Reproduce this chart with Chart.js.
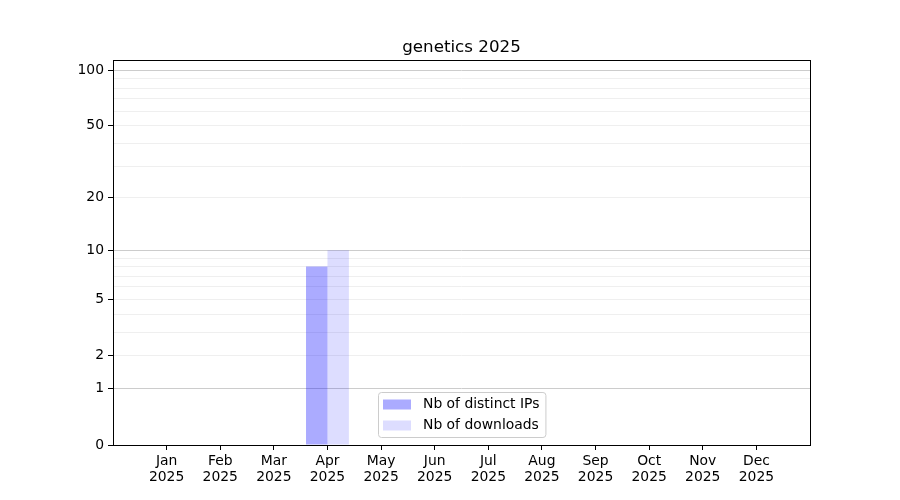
<!DOCTYPE html>
<html>
<head>
<meta charset="utf-8">
<script src="https://cdn.jsdelivr.net/npm/chart.js@4.4.1/dist/chart.umd.min.js"></script>
<style>
  body { margin: 0; background: #fff; }
  #wrap { width: 900px; height: 500px; }
</style>
</head>
<body>
<div id="wrap"><canvas id="chart" width="900" height="500"></canvas></div>
<script>
// --- data ---
const TITLE = 'genetics 2025';
const MONTHS = ['Jan', 'Feb', 'Mar', 'Apr', 'May', 'Jun', 'Jul', 'Aug', 'Sep', 'Oct', 'Nov', 'Dec'];
const YEAR = '2025';
const distinctIPs = [0, 0, 0, 8, 0, 0, 0, 0, 0, 0, 0, 0];
const downloads   = [0, 0, 0, 10, 0, 0, 0, 0, 0, 0, 0, 0];
const Y_TICKS   = [0, 1, 2, 3, 4, 5, 6, 7, 8, 9, 10, 20, 30, 40, 50, 60, 70, 80, 90, 100];
const Y_LABELED = [0, 1, 2, 5, 10, 20, 50, 100];
const Y_MAJOR   = [1, 10, 100];
const Y_MAX = 113.5;

const FONT = 'DejaVu Sans';

// --- log10(1+y) scale (matplotlib-like symlog look) ---
class Log1pScale extends Chart.LinearScale {
    buildTicks() {
        return Y_TICKS.map(v => ({ value: v }));
    }
    configure() {
        super.configure();
        this._lo = Math.log10(1 + this.min);
        this._hi = Math.log10(1 + this.max);
    }
    getPixelForValue(v) {
        return this.getPixelForDecimal((Math.log10(1 + v) - this._lo) / (this._hi - this._lo));
    }
    getValueForPixel(p) {
        const d = this.getDecimalForPixel(p);
        return Math.pow(10, this._lo + d * (this._hi - this._lo)) - 1;
    }
}
Log1pScale.id = 'log1p';
Log1pScale.defaults = {};
Chart.register(Log1pScale);

// padded categories so months sit one full step in from the frame
const labels = [''].concat(MONTHS.map(m => [m, YEAR]), ['']);
const pad = arr => [null].concat(arr, [null]);

// frame + legend drawn on top
const framePlugin = {
    id: 'frame',
    afterDraw(chart) {
        const { ctx, chartArea: a } = chart;
        ctx.save();
        ctx.strokeStyle = '#000'; ctx.lineWidth = 1;
        ctx.strokeRect(Math.round(a.left) + 0.5, Math.round(a.top) + 0.5,
                       Math.round(a.right - a.left), Math.round(a.bottom - a.top));

        // legend, lower center
        ctx.font = '13.9px "' + FONT + '"';
        const ds = chart.data.datasets;
        const textW = Math.max(...ds.map(d => ctx.measureText(d.label).width));
        const w = 5 + 28 + 12 + textW + 6;
        const h = 45;
        const x = Math.round((a.left + a.right) / 2 - w / 2) + 0.5;
        const y = Math.round(a.bottom - 8 - h) + 0.5;
        ctx.beginPath();
        ctx.roundRect(x, y, w, h, 3);
        ctx.fillStyle = 'rgba(255,255,255,0.8)'; ctx.fill();
        ctx.strokeStyle = '#cccccc'; ctx.stroke();
        ctx.textBaseline = 'middle';
        ds.forEach((d, i) => {
            const cy = y + 12 + i * 21;
            ctx.fillStyle = d.backgroundColor;
            ctx.fillRect(x + 4.5, cy - 5, 28, 10);
            ctx.fillStyle = '#000';
            ctx.fillText(d.label, x + 44.5, cy);
        });
        ctx.restore();
    }
};

new Chart(document.getElementById('chart'), {
    type: 'bar',
    data: {
        labels: labels,
        datasets: [
            { label: 'Nb of distinct IPs', data: pad(distinctIPs), backgroundColor: 'rgba(0,0,255,0.33)', borderWidth: 0 },
            { label: 'Nb of downloads', data: pad(downloads), backgroundColor: 'rgba(0,0,255,0.133)', borderWidth: 0 }
        ]
    },
    options: {
        responsive: false, devicePixelRatio: 1, animation: false,
        categoryPercentage: 0.8, barPercentage: 1.0,
        layout: { padding: { left: 0, right: 90, top: 0, bottom: 0 } },
        plugins: {
            legend: { display: false },
            tooltip: { enabled: false },
            title: {
                display: true, text: TITLE, fullSize: false, color: '#000',
                font: { family: FONT, size: 16.7, weight: 'normal', lineHeight: 1.2 },
                padding: { top: 38, bottom: 2 }
            }
        },
        scales: {
            x: {
                offset: false,
                border: { display: false },
                grid: {
                    offset: false,
                    drawOnChartArea: false, drawTicks: true, tickLength: 5,
                    color: c => (c.index === 0 || c.index === labels.length - 1) ? 'rgba(0,0,0,0)' : '#000'
                },
                ticks: { color: '#000', autoSkip: false, maxRotation: 0, padding: 3,
                         font: { family: FONT, size: 13.9, lineHeight: 1.15 } },
                afterFit: s => { s.height = 55; }
            },
            y: {
                type: 'log1p', min: 0, max: Y_MAX,
                border: { display: false },
                grid: {
                    drawTicks: true, tickLength: 5,
                    color: c => {
                        const v = c.tick.value;
                        if (v === 0) return 'rgba(0,0,0,0)';
                        return Y_MAJOR.includes(v) ? '#cccccc' : '#efefef';
                    },
                    tickColor: c => Y_LABELED.includes(c.tick.value) ? '#000' : 'rgba(0,0,0,0)'
                },
                ticks: {
                    color: '#000', autoSkip: false, padding: 4,
                    font: { family: FONT, size: 13.9 },
                    callback: v => Y_LABELED.includes(v) ? String(v) : ''
                },
                afterFit: s => { s.width = 113; }
            }
        }
    },
    plugins: [framePlugin]
});
</script>
</body>
</html>
